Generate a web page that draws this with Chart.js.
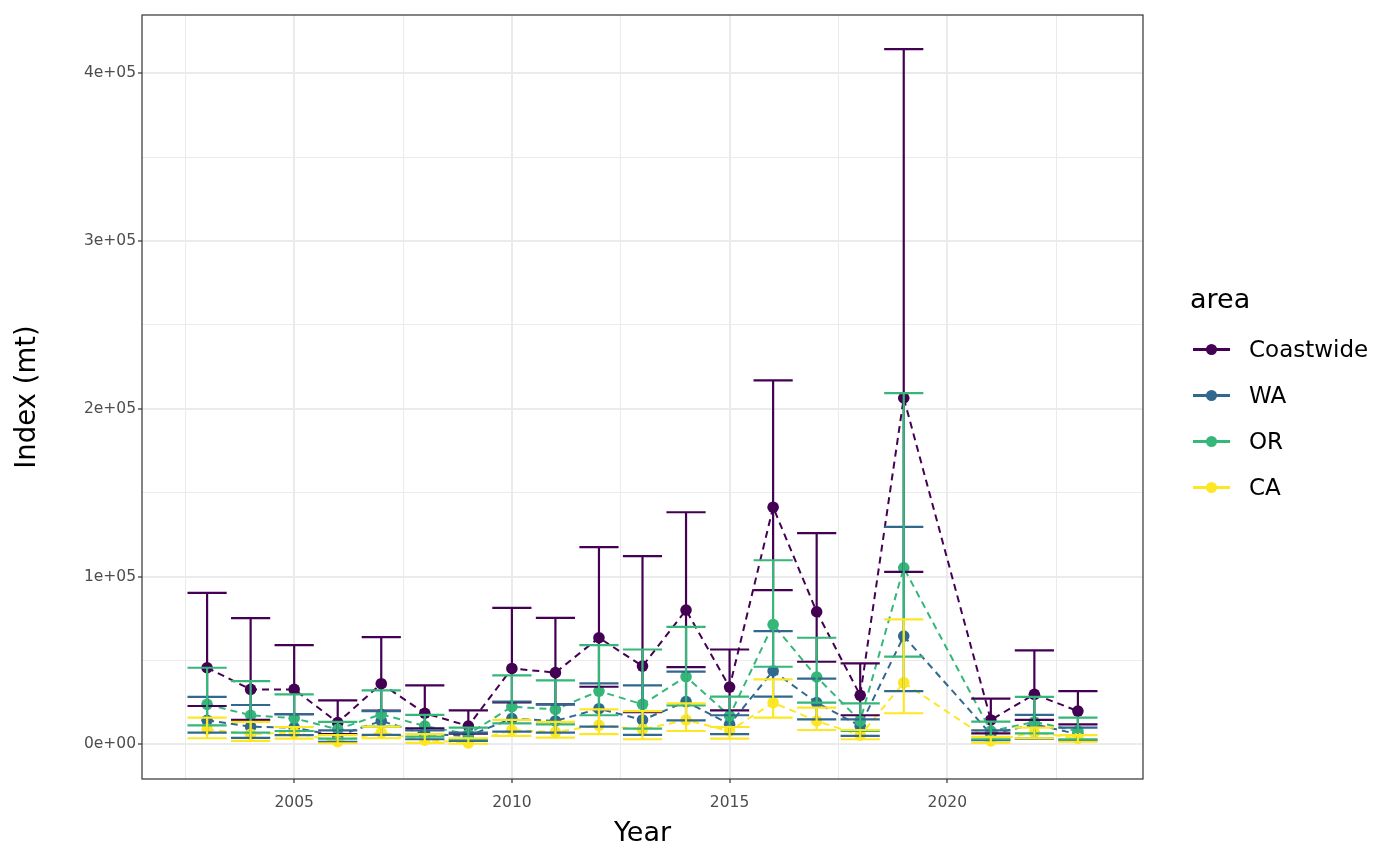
<!DOCTYPE html>
<html>
<head>
<meta charset="utf-8">
<script src="https://cdn.jsdelivr.net/npm/chart.js@4.4.1/dist/chart.umd.min.js"></script>
<style>
  html, body { margin: 0; padding: 0; background: #ffffff; }
  #wrap { position: relative; width: 1400px; height: 865px; font-family: "DejaVu Sans", sans-serif; }
  #wrap canvas { position: absolute; left: 0; top: 0; }
  .legend-title { position: absolute; left: 1190px; top: 282px; font-size: 27px; line-height: 34px; color: #000; }
  .legend-item { position: absolute; left: 1193px; height: 30px; display: flex; align-items: center; }
  .legend-key { position: relative; width: 37px; height: 30px; }
  .legend-key .ln { position: absolute; left: 0; top: 14px; width: 37px; height: 2.5px; }
  .legend-key .dot { position: absolute; left: 13px; top: 10px; width: 11px; height: 11px; border-radius: 50%; }
  .legend-label { margin-left: 19px; font-size: 23px; color: #000; }
</style>
</head>
<body>
<div id="wrap">
  <canvas id="chart" width="1400" height="865"></canvas>
  <div id="legend"></div>
</div>
<script>
const years = [2003, 2004, 2005, 2006, 2007, 2008, 2009, 2010, 2011, 2012,
               2013, 2014, 2015, 2016, 2017, 2018, 2019, 2021, 2022, 2023];

const areas = ["Coastwide", "WA", "OR", "CA"];
const areaColors = ["#440154", "#31688E", "#35B779", "#FDE725"];

const coastwideEst = [45600, 32700, 32700, 12900, 36100, 18500, 10900, 45200, 42700, 63500,
                      46600, 80000, 34100, 141300, 79000, 29200, 206400, 14500, 29800, 19800];
const coastwideLo  = [22800, 14500, 18000, 6000, 20000, 9500, 6300, 25000, 23800, 34300,
                      19200, 46000, 20200, 91900, 49200, 17300, 102800, 6500, 14500, 11900];
const coastwideHi  = [90300, 75200, 59100, 26200, 63900, 35100, 20200, 81300, 75400, 117500,
                      112100, 138300, 56500, 216900, 125800, 48200, 414300, 27200, 56000, 31700];

const waEst = [14300, 10500, 9900, 5000, 13900, 6000, 5000, 15300, 13900, 21200,
               14500, 25400, 11900, 43700, 24800, 10900, 64500, 6000, 11900, 6000];
const waLo  = [7000, 3800, 5400, 1400, 5600, 3000, 2000, 7500, 7000, 10500,
               5600, 14300, 6000, 28400, 14900, 5000, 31700, 2400, 3400, 2400];
const waHi  = [28200, 23400, 18000, 8300, 19800, 8300, 7000, 25500, 23800, 36300,
               35100, 43300, 17300, 67500, 39100, 14900, 129600, 8300, 17500, 9900];

const orEst = [23800, 17300, 15500, 8900, 17900, 10900, 6000, 22400, 20800, 31700,
               23800, 40300, 16900, 71400, 40100, 13900, 105200, 7900, 13300, 7900];
const orLo  = [11300, 7000, 7900, 3400, 10500, 4600, 3000, 12500, 11900, 17300,
               9300, 23200, 10300, 46200, 24800, 7900, 52200, 3000, 6500, 3000];
const orHi  = [45600, 37700, 29800, 13300, 32100, 17500, 9900, 41100, 38100, 59100,
               56500, 70000, 28400, 109700, 63500, 24400, 209300, 13500, 28200, 15900];

const caEst = [8900, 6000, 7000, 1500, 7000, 2500, 800, 8500, 7300, 11300,
               8900, 14500, 7900, 24800, 13900, 5400, 36700, 2000, 7000, 3500];
const caLo  = [3600, 2000, 3400, 600, 3600, 800, 300, 5000, 4000, 6000,
               3000, 7900, 3400, 15900, 8500, 3000, 18500, 800, 3600, 1500];
const caHi  = [15900, 13300, 10300, 5500, 10500, 6000, 3600, 14500, 13300, 20800,
               19800, 24400, 10300, 38700, 21800, 8500, 74400, 4400, 9900, 5500];

const estimates = [coastwideEst, waEst, orEst, caEst];
const lowers = [coastwideLo, waLo, orLo, caLo];
const uppers = [coastwideHi, waHi, orHi, caHi];

// grid / tick positions
const xGridValues = [2002.5, 2005, 2007.5, 2010, 2012.5, 2015, 2017.5, 2020, 2022.5];
const yGridValues = [0, 50000, 100000, 150000, 200000, 250000, 300000, 350000, 400000];
const capHalfWidth = 0.45;

function sciLabel(v) {
    if (v === 0) return "0e+00";
    const e = Math.floor(Math.log10(Math.abs(v)));
    const m = Math.round(v / Math.pow(10, e));
    return m + "e+" + String(e).padStart(2, "0");
}

function errorBarPath(lo, hi) {
    const pts = [];
    years.forEach((yr, i) => {
        pts.push({ x: yr - capHalfWidth, y: lo[i] }, { x: yr + capHalfWidth, y: lo[i] }, { x: yr, y: null });
        pts.push({ x: yr, y: lo[i] }, { x: yr, y: hi[i] }, { x: yr, y: null });
        pts.push({ x: yr - capHalfWidth, y: hi[i] }, { x: yr + capHalfWidth, y: hi[i] }, { x: yr, y: null });
    });
    return pts;
}

const datasets = [];
areas.forEach((name, k) => {
    datasets.push({
        label: name,
        data: years.map((yr, i) => ({ x: yr, y: estimates[k][i] })),
        borderColor: areaColors[k],
        backgroundColor: areaColors[k],
        borderWidth: 2,
        borderDash: [7, 5],
        pointRadius: 5.8,
        pointHoverRadius: 5.8,
        pointBorderWidth: 0,
        tension: 0,
        order: 8 - k
    });
});
areas.forEach((name, k) => {
    datasets.push({
        label: name + " CI",
        data: errorBarPath(lowers[k], uppers[k]),
        borderColor: areaColors[k],
        borderWidth: 2.2,
        pointRadius: 0,
        pointHoverRadius: 0,
        spanGaps: false,
        tension: 0,
        order: 4 - k
    });
});

const panelBorder = {
    id: "panelBorder",
    afterDraw(chart) {
        const { ctx, chartArea: a } = chart;
        ctx.save();
        ctx.strokeStyle = "#333333";
        ctx.lineWidth = 1.2;
        ctx.strokeRect(a.left, a.top, a.right - a.left, a.bottom - a.top);
        ctx.restore();
    }
};

const isMajorX = v => Math.abs(v % 5) < 1e-9;
const isMajorY = v => v % 100000 === 0;

new Chart(document.getElementById("chart"), {
    type: "line",
    data: { datasets: datasets },
    plugins: [panelBorder],
    options: {
        responsive: false,
        animation: false,
        events: [],
        layout: { padding: { top: 15, right: 257, left: 0, bottom: 0 } },
        plugins: {
            legend: { display: false },
            tooltip: { enabled: false }
        },
        scales: {
            x: {
                type: "linear",
                min: 2001.505,
                max: 2024.495,
                afterFit: scale => { scale.height = 86; },
                afterBuildTicks: scale => { scale.ticks = xGridValues.map(v => ({ value: v })); },
                ticks: {
                    autoSkip: false,
                    maxRotation: 0,
                    padding: 11,
                    color: "#4d4d4d",
                    font: { family: "DejaVu Sans", size: 15.5 },
                    callback: v => isMajorX(v) ? String(v) : ""
                },
                grid: {
                    color: "#ebebeb",
                    lineWidth: c => isMajorX(c.tick.value) ? 2 : 1,
                    tickColor: c => isMajorX(c.tick.value) ? "#333333" : "rgba(0,0,0,0)",
                    tickWidth: 1.2,
                    tickLength: 4
                },
                border: { display: false },
                title: {
                    display: true,
                    text: "Year",
                    color: "#000",
                    font: { family: "DejaVu Sans", size: 27 },
                    padding: { top: 0, bottom: 15 }
                }
            },
            y: {
                type: "linear",
                min: -20700,
                max: 434700,
                afterFit: scale => { scale.width = 142; },
                afterBuildTicks: scale => { scale.ticks = yGridValues.map(v => ({ value: v })); },
                ticks: {
                    autoSkip: false,
                    padding: 2,
                    color: "#4d4d4d",
                    font: { family: "DejaVu Sans", size: 15.5 },
                    callback: v => isMajorY(v) ? sciLabel(v) : ""
                },
                grid: {
                    color: "#ebebeb",
                    lineWidth: c => isMajorY(c.tick.value) ? 2 : 1,
                    tickColor: c => isMajorY(c.tick.value) ? "#333333" : "rgba(0,0,0,0)",
                    tickWidth: 1.2,
                    tickLength: 4
                },
                border: { display: false },
                title: {
                    display: true,
                    text: "Index (mt)",
                    color: "#000",
                    font: { family: "DejaVu Sans", size: 27.5 },
                    padding: { top: 11, bottom: 0 }
                }
            }
        }
    }
});

// legend (ggplot style: line with dot)
const legend = document.getElementById("legend");
const title = document.createElement("div");
title.className = "legend-title";
title.textContent = "area";
legend.appendChild(title);
areas.forEach((name, k) => {
    const item = document.createElement("div");
    item.className = "legend-item";
    item.style.top = (334 + k * 46) + "px";
    item.innerHTML = '<div class="legend-key"><div class="ln" style="background:' + areaColors[k] +
        '"></div><div class="dot" style="background:' + areaColors[k] + '"></div></div>' +
        '<span class="legend-label">' + name + '</span>';
    legend.appendChild(item);
});
</script>
</body>
</html>
